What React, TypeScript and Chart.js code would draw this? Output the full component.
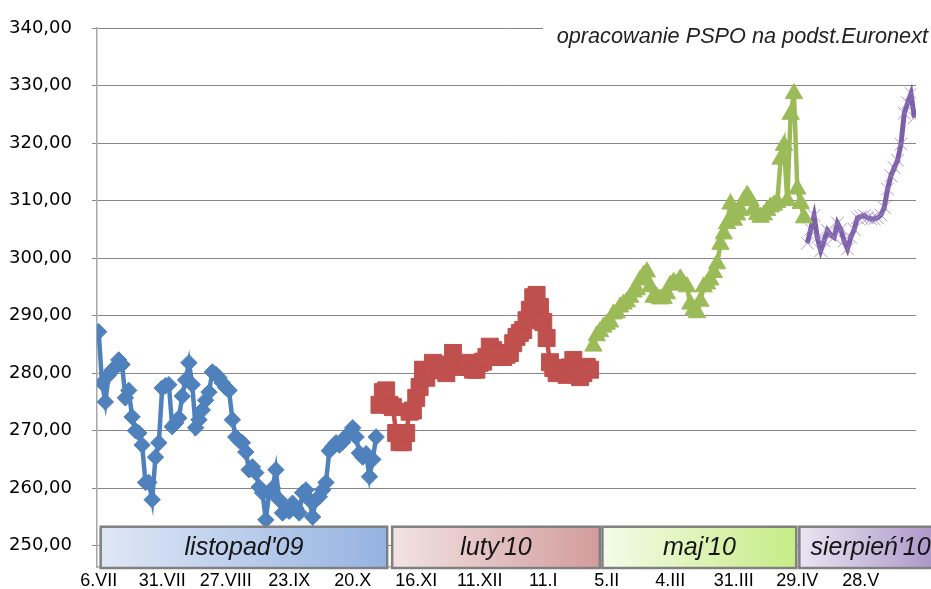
import React, { useEffect, useRef } from 'react';
import { Chart, registerables } from 'chart.js';

Chart.register(...registerables);

// ---- categories / ticks ----
const TICK_LABELS = ['6.VII', '31.VII', '27.VIII', '23.IX', '20.X', '16.XI', '11.XII', '11.I', '5.II', '4.III', '31.III', '29.IV', '28.V'];
const TICK_EVERY = 19;
const CATEGORY_COUNT = 245;
const Y_TICKS = [250, 260, 270, 280, 290, 300, 310, 320, 330, 340];
const Y_MIN = 246.3;
const Y_MAX = 340;

// ---- series (contract prices) ----
const LISTOPAD_START = 0;
const LISTOPAD = [
  287.2, 278.3, 275.0, 279.7, 280.5, 281.0, 282.3, 281.5, 275.7, 277.0,
  272.4, 270.0, 269.6, 267.5, 261.0, 261.0, 258.0, 265.4, 267.9, 277.4,
  277.8, 278.0, 270.7, 271.3, 272.2, 276.0, 278.8, 281.8, 278.0, 270.5,
  271.9, 273.6, 275.3, 276.7, 280.2, 279.8, 279.2, 278.3, 277.5, 277.0,
  271.9, 268.9, 268.3, 267.9, 266.3, 263.2, 263.7, 262.7, 260.2, 259.2,
  254.5, 259.2, 260.0, 263.2, 258.0, 255.7, 256.2, 256.0, 257.4, 256.5,
  255.7, 259.2, 259.7, 258.0, 255.0, 258.0, 258.5, 259.7, 261.0, 266.5,
  267.2, 267.9, 267.5, 268.0, 269.0, 269.6, 270.5, 268.9, 266.1, 265.4,
  266.0, 262.0, 265.0, 268.9,
];
const LUTY_START = 84;
const LUTY = [
  274.5, 276.7, 277.0, 274.5, 274.1, 269.6, 268.0, 268.0, 269.6, 273.3,
  273.5, 275.7, 277.6, 280.6, 279.2, 280.5, 281.8, 280.6, 281.1, 281.1,
  280.0, 281.5, 283.5, 281.1, 281.5, 281.8, 281.1, 281.1, 280.6, 280.6,
  281.8, 282.0, 282.8, 284.6, 284.0, 283.5, 282.8, 282.8, 283.2, 283.5,
  285.2, 286.3, 287.0, 287.5, 289.2, 291.0, 293.2, 293.6, 291.5, 288.9,
  286.1, 281.9, 280.9, 280.0, 280.3, 280.6, 279.7, 281.0, 282.3, 280.6,
  279.3, 280.0, 281.1, 280.6,
];
const MAJ_START = 148;
const MAJ = [
  284.7, 286.5, 287.2, 288.0, 288.5, 288.9, 290.3, 290.5, 291.5, 292.0,
  292.4, 293.2, 294.1, 294.5, 296.2, 297.0, 297.6, 295.0, 293.2, 293.2,
  292.9, 293.0, 293.8, 295.3, 295.8, 295.5, 296.4, 295.5, 295.0, 292.0,
  291.0, 290.5, 292.5, 295.0, 295.5, 296.2, 297.5, 299.0, 302.4, 304.2,
  306.0, 309.4, 306.6, 307.5, 308.3, 310.0, 310.9, 310.0, 308.5, 307.6,
  307.1, 307.5, 308.3, 308.9, 309.2, 309.7, 317.2, 319.6, 310.0, 325.0,
  328.6, 312.0, 309.5, 307.0,
];
const SIERPIEN_START = 212;
const SIERPIEN = [
  302.6, 305.0, 307.4, 303.5, 301.3, 303.0, 304.8, 304.0, 303.6, 306.1,
  305.0, 303.0, 301.6, 303.6, 305.0, 307.0, 307.2, 307.4, 307.0, 306.8,
  306.8, 307.0, 307.5, 308.8, 312.0, 314.3, 315.7, 317.0, 319.8, 325.2,
  327.0, 328.6, 324.4,
];

// ---- contract label boxes (category ranges) ----
const CONTRACTS = ["listopad'09", "luty'10", "maj'10", "sierpień'10"];
const CONTRACT_FROM = [0.6, 87.8, 150.7, 209.6];
const CONTRACT_TO = [86.3, 149.9, 208.7, 252.2];
const BOX_TOP_VALUE = 253.3;
const BOX_COLORS: [string, string][] = [
  ['#dfe7f5', '#95b3e2'],
  ['#f2e3e3', '#d29c9b'],
  ['#f4fbe8', '#c6ec86'],
  ['#ebe5f2', '#a892c6'],
];
const SOURCE_TEXT = 'opracowanie PSPO na podst.Euronext';

const toPoints = (start: number, values: number[]) => values.map((v, i) => ({ x: start + i, y: v }));

const boxesPlugin = {
  id: 'contractBoxes',
  afterDatasetsDraw(chart: any) {
    const { ctx, scales, chartArea } = chart;
    const xs = scales.x;
    const ys = scales.y;
    ctx.save();
    CONTRACTS.forEach((name, k) => {
      const left = xs.getPixelForValue(CONTRACT_FROM[k]);
      const right = xs.getPixelForValue(CONTRACT_TO[k]);
      const top = ys.getPixelForValue(BOX_TOP_VALUE);
      const bottom = chartArea.bottom + 1;
      const g = ctx.createLinearGradient(left, 0, right, 0);
      g.addColorStop(0, BOX_COLORS[k][0]);
      g.addColorStop(1, BOX_COLORS[k][1]);
      ctx.fillStyle = g;
      ctx.fillRect(left, top, right - left, bottom - top);
      ctx.strokeStyle = '#808080';
      ctx.lineWidth = 2.5;
      ctx.strokeRect(left, top, right - left, bottom - top);
      ctx.fillStyle = '#151515';
      ctx.font = 'italic 25px "Liberation Sans", Arial, sans-serif';
      ctx.textAlign = 'center';
      ctx.textBaseline = 'middle';
      ctx.fillText(name, (left + right) / 2, (top + bottom) / 2 + 1);
    });
    ctx.restore();
  },
  afterDraw(chart: any) {
    const { ctx } = chart;
    ctx.save();
    ctx.fillStyle = '#ffffff';
    ctx.fillRect(543, 14, 400, 38);
    ctx.fillStyle = '#222222';
    ctx.font = 'italic 21.7px "Liberation Sans", Arial, sans-serif';
    ctx.textAlign = 'right';
    ctx.textBaseline = 'middle';
    ctx.fillText(SOURCE_TEXT, 928, 37);
    ctx.restore();
  },
};

export default function App() {
  const ref = useRef<HTMLCanvasElement | null>(null);

  useEffect(() => {
    if (!ref.current) return;
    const mk = (data: any[], color: string, style: string, radius: number, extra: any = {}) => ({
      data,
      borderColor: color,
      backgroundColor: color,
      pointBackgroundColor: color,
      pointBorderColor: color,
      pointStyle: style,
      pointRadius: radius,
      pointBorderWidth: 1,
      borderWidth: 4.5,
      tension: 0,
      ...extra,
    });
    const chart = new Chart(ref.current, {
      type: 'line',
      data: {
        datasets: [
          mk(toPoints(LISTOPAD_START, LISTOPAD), '#4f81bd', 'rectRot', 8.2),
          mk(toPoints(LUTY_START, LUTY), '#c0504d', 'rect', 12),
          mk(toPoints(MAJ_START, MAJ), '#9bbb59', 'triangle', 10),
          mk(toPoints(SIERPIEN_START, SIERPIEN), '#7c5fa6', 'crossRot', 9, {
            pointBorderColor: 'rgba(150,125,195,0.8)',
            borderWidth: 5,
          }),
        ],
      },
      options: {
        responsive: false,
        animation: false,
        events: [],
        layout: { padding: { top: 28, right: 15, left: 0, bottom: 0 } },
        plugins: { legend: { display: false }, tooltip: { enabled: false }, title: { display: false } },
        scales: {
          x: {
            type: 'linear',
            min: -0.5,
            max: CATEGORY_COUNT - 0.5,
            afterBuildTicks: (scale: any) => {
              scale.ticks = TICK_LABELS.map((_, k) => ({ value: k * TICK_EVERY }));
            },
            afterFit: (scale: any) => {
              scale.height = 22;
              scale.paddingLeft = 0;
              scale.paddingRight = 0;
              scale.paddingTop = 0;
              scale.paddingBottom = 0;
            },
            grid: { display: false, drawTicks: false },
            border: { display: true, color: '#a6a6a6', width: 1.5 },
            ticks: {
              autoSkip: false,
              maxRotation: 0,
              padding: 3,
              color: '#000000',
              font: { family: '"Liberation Sans", Arial, sans-serif', size: 18 },
              callback: (v: any) => TICK_LABELS[Math.round(Number(v) / TICK_EVERY)] ?? '',
            },
          },
          y: {
            min: Y_MIN,
            max: Y_MAX,
            afterBuildTicks: (scale: any) => {
              scale.ticks = Y_TICKS.map((v) => ({ value: v }));
            },
            afterFit: (scale: any) => {
              scale.width = 97;
              scale.paddingTop = 0;
              scale.paddingBottom = 0;
              scale.paddingLeft = 0;
              scale.paddingRight = 0;
            },
            grid: { color: '#868686', lineWidth: 1, tickLength: 5 },
            border: { display: true, color: '#a6a6a6', width: 1.5 },
            ticks: {
              padding: 20,
              color: '#000000',
              font: { family: '"DejaVu Sans", Verdana, sans-serif', size: 18 },
              callback: (v: any) => Number(v).toFixed(2).replace('.', ','),
            },
          },
        },
      },
      plugins: [boxesPlugin],
    } as any);
    return () => chart.destroy();
  }, []);

  return (
    <div style={{ position: 'absolute', left: 0, top: 0, width: 931, height: 589, background: '#ffffff' }}>
      <canvas ref={ref} width={931} height={589} />
    </div>
  );
}
